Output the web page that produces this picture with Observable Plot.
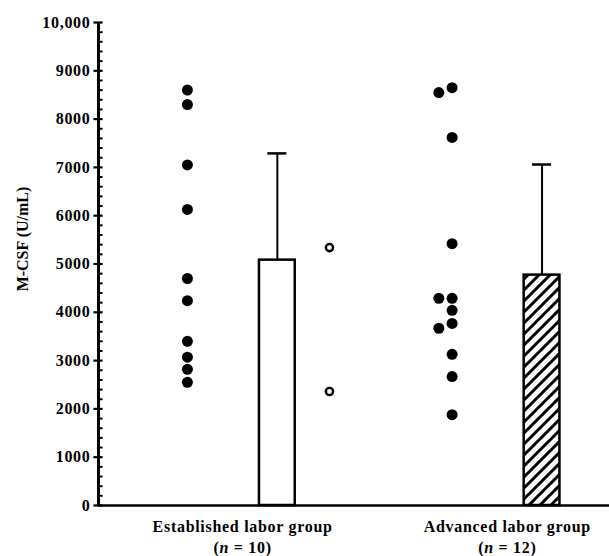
<!DOCTYPE html>
<html>
<head>
<meta charset="utf-8">
<script src="https://cdn.jsdelivr.net/npm/d3@7"></script>
<script src="https://cdn.jsdelivr.net/npm/@observablehq/plot@0.6"></script>
<style>
  html, body { margin: 0; padding: 0; background: #fff; }
</style>
</head>
<body>
<div id="chart"></div>
<script>
// ---- data ----
const groups = ["Established labor group", "Advanced labor group"];
const groupN = ["(n = 10)", "(n = 12)"];
const establishedValues = [8600, 8300, 7050, 6130, 4700, 4240, 3400, 3070, 2820, 2550];
const establishedOpen = [5340, 2360];
const advancedValues = [8650, 8550, 7620, 5420, 4290, 4290, 4040, 3770, 3670, 3130, 2670, 1880];
const barMeans = [5080, 4770];
const barSD = [2210, 2290];
const yTicks = [0, 1000, 2000, 3000, 4000, 5000, 6000, 7000, 8000, 9000, 10000];
const yTickLabels = ["0", "1000", "2000", "3000", "4000", "5000", "6000", "7000", "8000", "9000", "10,000"];
const yLabel = "M-CSF (U/mL)";

// ---- layout (positions in x-scale units) ----
const groupCenter = [2.82, 8.0];
const dotOffset = -1.08;
const dodgeOffset = -0.26;
const barOffset = 0.68;
const barHalf = 0.35;
const openOffset = 1.70;
const capHalf = 0.186;
const advDodged = [0, 1, 0, 0, 1, 0, 0, 0, 1, 0, 0, 0];
const tickLen = 0.09; // ≈4.5px

const minorTicks = d3.range(0, 10001, 200).filter(v => v % 1000 !== 0);

const dots = [
  ...establishedValues.map(v => ({g: 0, v, dodge: 0})),
  ...advancedValues.map((v, i) => ({g: 1, v, dodge: advDodged[i]}))
];
const opens = establishedOpen.map(v => ({g: 0, v}));
const bars = groups.map((name, i) => ({g: i, mean: barMeans[i], sd: barSD[i], hatch: i === 1}));
const labels = groups.map((name, i) => ({g: i, name, n: groupN[i]}));

const chart = Plot.plot({
  width: 609,
  height: 556,
  marginLeft: 98,
  marginRight: 0,
  marginTop: 22,
  marginBottom: 51,
  style: {
    fontFamily: "'Liberation Serif', 'Times New Roman', serif",
    fontWeight: "bold",
    fontSize: "16px",
    color: "black",
    background: "white",
    overflow: "visible"
  },
  x: {domain: [0, 10], axis: null},
  y: {domain: [0, 10000], axis: null},
  marks: [
    // y label
    Plot.text([yLabel], {
      frameAnchor: "left", dx: -76, dy: -25, rotate: -90,
      fontSize: 16, fill: "black", textAnchor: "middle", lineAnchor: "middle"
    }),
    // error bars
    Plot.ruleX(bars, {x: d => groupCenter[d.g] + barOffset, y1: d => d.mean, y2: d => d.mean + d.sd, stroke: "black", strokeWidth: 2}),
    Plot.ruleY(bars, {y: d => d.mean + d.sd, x1: d => groupCenter[d.g] + barOffset - capHalf, x2: d => groupCenter[d.g] + barOffset + capHalf, stroke: "black", strokeWidth: 2.5}),
    // bars
    Plot.rect(bars.filter(d => !d.hatch), {
      x1: d => groupCenter[d.g] + barOffset - barHalf, x2: d => groupCenter[d.g] + barOffset + barHalf,
      y1: 0, y2: d => d.mean, fill: "white", stroke: "black", strokeWidth: 2.5
    }),
    Plot.rect(bars.filter(d => d.hatch), {
      x1: d => groupCenter[d.g] + barOffset - barHalf, x2: d => groupCenter[d.g] + barOffset + barHalf,
      y1: 0, y2: d => d.mean, fill: "url(#hatch)", stroke: "black", strokeWidth: 2.5
    }),
    // individual values
    Plot.dot(dots, {x: d => groupCenter[d.g] + dotOffset + d.dodge * dodgeOffset, y: "v", r: 5.5, fill: "black", stroke: "none"}),
    Plot.dot(opens, {x: d => groupCenter[d.g] + openOffset, y: "v", r: 3.6, fill: "white", stroke: "black", strokeWidth: 2.4}),
    // x labels
    Plot.text(labels, {x: d => groupCenter[d.g], y: 0, text: "name", dy: 26, lineAnchor: "bottom", fontSize: 16, fill: "black"}),
    Plot.text(labels, {x: d => groupCenter[d.g], y: 0, text: "n", dy: 47, lineAnchor: "bottom", fontSize: 16, fill: "black"}),
    // axis lines (drawn on top)
    Plot.ruleX([0], {x: d => d, y1: 0, y2: 10000, stroke: "black", strokeWidth: 3}),
    Plot.ruleY([0], {y: d => d, stroke: "black", strokeWidth: 2.5}),
    // minor ticks (inside)
    Plot.ruleY(minorTicks, {y: d => d, x1: 0, x2: tickLen, stroke: "black", strokeWidth: 2}),
    // major ticks (crossing)
    Plot.ruleY(yTicks, {y: d => d, x1: -tickLen, x2: tickLen, stroke: "black", strokeWidth: 2.2}),
    // tick labels
    Plot.text(yTicks, {
      x: 0, y: d => d, text: (d, i) => yTickLabels[i], dx: -8, textAnchor: "end",
      fontSize: 16, fill: "black"
    })
  ]
});

// hatch pattern
const ns = "http://www.w3.org/2000/svg";
const defs = document.createElementNS(ns, "defs");
const pattern = document.createElementNS(ns, "pattern");
pattern.setAttribute("id", "hatch");
pattern.setAttribute("patternUnits", "userSpaceOnUse");
pattern.setAttribute("width", "11");
pattern.setAttribute("height", "11");
const prect = document.createElementNS(ns, "rect");
prect.setAttribute("width", "11");
prect.setAttribute("height", "11");
prect.setAttribute("fill", "white");
const ppath = document.createElementNS(ns, "path");
ppath.setAttribute("d", "M-3,3 L3,-3 M0,11 L11,0 M8,14 L14,8");
ppath.setAttribute("stroke", "black");
ppath.setAttribute("stroke-width", "3");
pattern.appendChild(prect);
pattern.appendChild(ppath);
defs.appendChild(pattern);
chart.appendChild(defs);

// letter spacing for horizontal text, italic n
chart.querySelectorAll("text").forEach(t => {
  const tr = t.getAttribute("transform") || "";
  if (!/rotate/.test(tr)) t.setAttribute("letter-spacing", "0.7");
});
chart.querySelectorAll("text").forEach(t => {
  const m = /^\(n = (\d+)\)$/.exec(t.textContent);
  if (m) {
    while (t.firstChild) t.removeChild(t.firstChild);
    const a = document.createTextNode("(");
    const it = document.createElementNS(ns, "tspan");
    it.setAttribute("font-style", "italic");
    it.textContent = "n";
    const b = document.createTextNode(" = " + m[1] + ")");
    t.appendChild(a); t.appendChild(it); t.appendChild(b);
  }
});

document.getElementById("chart").appendChild(chart);
</script>
</body>
</html>
